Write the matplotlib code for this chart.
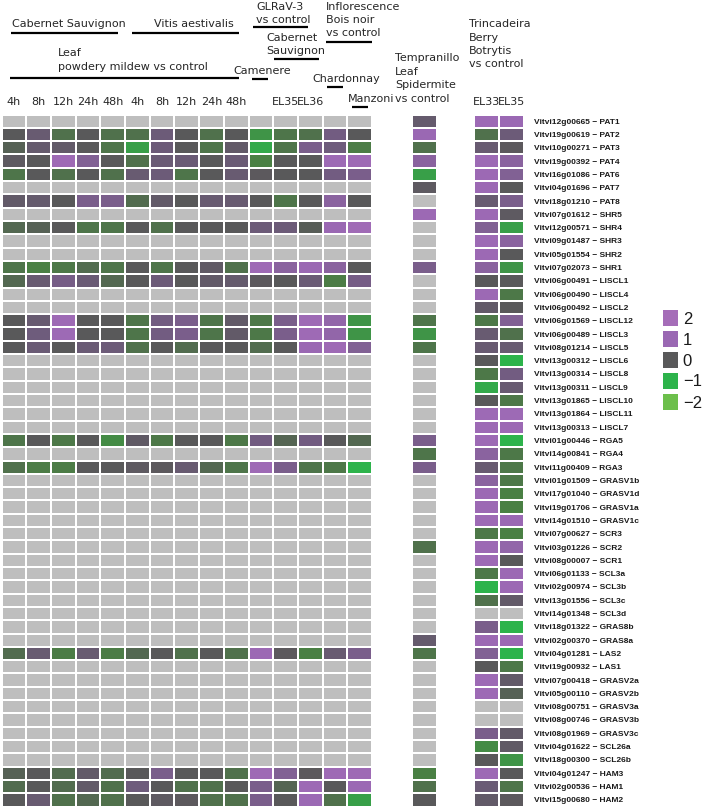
import numpy as np
import matplotlib
matplotlib.use("Agg")
import matplotlib.pyplot as plt
from matplotlib.colors import LinearSegmentedColormap

N = np.nan

genes = ["Vitvi12g00665 − PAT1", "Vitvi19g00619 − PAT2", "Vitvi10g00271 − PAT3",
         "Vitvi19g00392 − PAT4", "Vitvi16g01086 − PAT6", "Vitvi04g01696 − PAT7",
         "Vitvi18g01210 − PAT8", "Vitvi07g01612 − SHR5", "Vitvi12g00571 − SHR4",
         "Vitvi09g01487 − SHR3", "Vitvi05g01554 − SHR2", "Vitvi07g02073 − SHR1",
         "Vitvi06g00491 − LISCL1", "Vitvi06g00490 − LISCL4", "Vitvi06g00492 − LISCL2",
         "Vitvi06g01569 − LISCL12", "Vitvi06g00489 − LISCL3", "Vitvi08g01214 − LISCL5",
         "Vitvi13g00312 − LISCL6", "Vitvi13g00314 − LISCL8", "Vitvi13g00311 − LISCL9",
         "Vitvi13g01865 − LISCL10", "Vitvi13g01864 − LISCL11", "Vitvi13g00313 − LISCL7",
         "Vitvi01g00446 − RGA5", "Vitvi14g00841 − RGA4", "Vitvi11g00409 − RGA3",
         "Vitvi01g01509 − GRASV1b", "Vitvi17g01040 − GRASV1d", "Vitvi19g01706 − GRASV1a",
         "Vitvi14g01510 − GRASV1c", "Vitvi07g00627 − SCR3", "Vitvi03g01226 − SCR2",
         "Vitvi08g00007 − SCR1", "Vitvi06g01133 − SCL3a", "Vitvi02g00974 − SCL3b",
         "Vitvi13g01556 − SCL3c", "Vitvi14g01348 − SCL3d", "Vitvi18g01322 − GRAS8b",
         "Vitvi02g00370 − GRAS8a", "Vitvi04g01281 − LAS2", "Vitvi19g00932 − LAS1",
         "Vitvi07g00418 − GRASV2a", "Vitvi05g00110 − GRASV2b", "Vitvi08g00751 − GRASV3a",
         "Vitvi08g00746 − GRASV3b", "Vitvi08g01969 − GRASV3c", "Vitvi04g01622 − SCL26a",
         "Vitvi18g00300 − SCL26b", "Vitvi04g01247 − HAM3", "Vitvi02g00536 − HAM1",
         "Vitvi15g00680 − HAM2"]

col_labels = ["4h", "8h", "12h", "24h", "48h", "4h", "8h", "12h", "24h", "48h",
              "", "EL35", "EL36", "", ""]
trinc_labels = ["EL33", "EL35"]

NA15 = [N] * 15
# log2 fold change, main block (15 columns)
main = [
    NA15,
    [0, 0.3, -0.3, 0, -0.3, -0.3, 0.4, 0, -0.3, 0, -0.7, -0.35, -0.3, 0.5, 0],
    [-0.1, 0.25, 0.2, 0, -0.35, -0.8, 0.4, 0, -0.35, 0.2, -0.9, -0.35, 0.6, 0.45, -0.45],
    [0.1, 0, 1.4, 0.7, 0, -0.3, 0.35, 0.35, 0, 0.35, -0.5, 0, 0, 1.3, 1.4],
    [-0.35, 0, -0.3, 0, -0.3, 0.3, 0.4, -0.35, 0, 0.3, 0.05, 0, 0, 0.5, 0.6],
    NA15,
    [0.2, 0.25, 0, 0.6, 0.6, -0.25, 0.2, 0, 0.3, 0.3, 0, -0.35, 0, 0.8, 0],
    NA15,
    [-0.2, -0.1, 0, -0.35, -0.35, 0, -0.3, 0, 0, 0, 0.4, 0.4, -0.05, 1.0, 1.5],
    NA15,
    NA15,
    [-0.35, -0.5, -0.4, -0.25, -0.35, 0, -0.35, 0, 0.15, -0.3, 1.4, 0.8, 1.0, 0.8, 0],
    [-0.2, 0.3, 0.55, 0.35, -0.2, 0, 0.4, 0, 0.2, 0.25, 0.05, 0, 0.35, -0.45, 0.55],
    NA15,
    NA15,
    [0, 0.3, 1.4, 0, 0, -0.35, 0.5, 0.6, -0.35, 0.2, -0.4, 0.6, 1.4, 0.9, -0.7],
    [0, 0.45, 1.3, 0, 0, -0.35, 0.5, 0.6, -0.35, 0.2, -0.4, 0.6, 1.4, 0.9, -0.7],
    [0, 0.35, 0, 0.35, 0.4, -0.3, 0, -0.25, 0, 0, -0.25, 0, 1.0, 1.4, 0.7],
    NA15, NA15, NA15, NA15, NA15, NA15,
    [-0.35, 0, -0.4, 0, -0.6, 0.15, -0.4, 0, 0, -0.4, 0.5, -0.15, 0.5, 0, -0.2],
    NA15,
    [-0.3, -0.45, -0.45, 0, 0, 0.1, 0.05, 0.3, -0.2, -0.35, 1.4, 0.6, -0.35, -0.4, -1.0],
    NA15, NA15, NA15, NA15, NA15, NA15, NA15, NA15, NA15, NA15, NA15, NA15, NA15,
    [-0.25, 0.3, -0.45, 0.3, -0.45, -0.2, 0, -0.3, 0, -0.3, 1.2, 0.05, -0.5, 0.3, 0.6],
    NA15, NA15, NA15, NA15, NA15, NA15, NA15, NA15,
    [-0.1, 0, -0.25, 0.2, -0.25, 0, 0.6, 0, 0, -0.3, 1.4, 0.7, 0.05, 1.4, 1.4],
    [-0.25, 0, -0.25, 0.2, -0.3, 0.45, 0, -0.3, -0.3, 0, 0.6, -0.15, 1.3, 0, 1.1],
    [0, 0.3, -0.3, -0.2, -0.3, 0, 0.1, 0.05, -0.3, -0.3, 0.6, 0, 1.1, -0.3, -0.8],
]

tempranillo = [0.25, 1.0, -0.3, 0.8, -0.8, 0.1, N, 1.2, N, N, N, 0.6,
               N, N, N, -0.35, -0.7, -0.35, N, N, N, N, N, N,
               0.6, -0.35, 0.6, N, N, N, N, N, -0.3, N, N, N,
               N, N, N, 0.25, -0.35, N, N, N, N, N, N, N,
               N, -0.5, -0.3, 0]

trinc_el33 = [1.3, -0.3, 0.3, 1.3, 1.2, 1.2, 0.3, 1.2, 0.7, 1.3, 1.2, 0.8,
              0, 1.2, 0.2, -0.4, 0.3, 0.3, 0, -0.4, -0.9, 0, 1.3, 1.3,
              1.3, 0.8, 0.3, 0.8, 1.2, 1.2, 1.3, -0.4, 1.2, 1.3, -0.4, -1.0,
              -0.3, N, 0.6, 1.2, 0.7, 0, 1.3, 1.3, N, N, 0.6, -0.6,
              0, 1.3, 0.35, 0.2]
trinc_el35 = [1.0, 0.4, 0.05, 0.8, 0.7, 0, 0.6, 0.1, -0.8, 0.8, 0, -0.7,
              0, -0.4, 0, 0.7, -0.3, 0.3, -1.0, 0.5, 0.3, -0.4, 1.3, 1.2,
              -1.0, -0.4, -0.4, -0.4, -0.5, -0.5, 1.0, -0.5, 0.9, 0, 1.2, 1.2,
              0.2, N, -1.0, 1.2, -1.0, -0.4, 0.2, -0.1, N, N, 0.2, 0.15,
              -0.7, 0, -0.35, 0.05]

legend_vals = [2, 1, 0, -1, -2]

cmap = LinearSegmentedColormap.from_list(
    "gp", [(0, "#6cbf4b"), (0.25, "#2db34b"), (0.375, "#4a8044"), (0.5, "#595959"),
           (0.625, "#715c80"), (0.75, "#9a68b3"), (1, "#a56db8")])
cmap.set_bad("#bebebe")

W, H = 708, 807
fig = plt.figure(figsize=(W / 100, H / 100), dpi=100)
txt = "#262626"


def add_px_axes(x0, x1, y0, y1):
    return fig.add_axes([x0 / W, 1 - y1 / H, (x1 - x0) / W, (y1 - y0) / H])


def heat(ax, data):
    arr = np.ma.masked_invalid(np.array(data, dtype=float))
    ax.pcolormesh(arr, cmap=cmap, vmin=-2, vmax=2, edgecolors="white", linewidth=1.3)
    ax.set_xlim(0, arr.shape[1])
    ax.set_ylim(arr.shape[0], 0)
    for s in ax.spines.values():
        s.set_visible(False)
    ax.tick_params(length=0)
    ax.set_yticks([])


y_top, y_bot = 114.5, 806.5

ax1 = add_px_axes(1.5, 372, y_top, y_bot)
heat(ax1, main)
ax1.xaxis.tick_top()
ax1.set_xticks(np.arange(15) + 0.5)
ax1.set_xticklabels(col_labels, fontsize=8, color=txt)
ax1.tick_params(axis="x", pad=5.5)

ax2 = add_px_axes(411.5, 436.5, y_top, y_bot)
heat(ax2, np.array(tempranillo).reshape(-1, 1))
ax2.set_xticks([])

ax3 = add_px_axes(474, 523.5, y_top, y_bot)
heat(ax3, np.column_stack([trinc_el33, trinc_el35]))
ax3.xaxis.tick_top()
ax3.set_xticks([0.5, 1.5])
ax3.set_xticklabels(trinc_labels, fontsize=8, color=txt)
ax3.tick_params(axis="x", pad=5.5)
ax3.yaxis.tick_right()
ax3.set_yticks(np.arange(len(genes)) + 0.5)
ax3.set_yticklabels(genes, fontsize=6, fontweight="bold",
                    family="Liberation Sans", color="#1a1a1a")
ax3.tick_params(axis="y", pad=7.5)

# legend
axl = add_px_axes(660, 680, 307, 412)
heat(axl, np.array(legend_vals).reshape(-1, 1))
for c in axl.collections:
    c.set_linewidth(2.2)
axl.set_xticks([])
axl.yaxis.tick_right()
axl.set_yticks(np.arange(5) + 0.5)
axl.set_yticklabels(["2", "1", "0", "−1", "−2"], fontsize=12,
                    family="Liberation Sans", color="#1a1a1a")
axl.tick_params(axis="y", pad=2)

# header annotations (pixel space)
axh = fig.add_axes([0, 0, 1, 1], zorder=-1)
axh.set_xlim(0, W)
axh.set_ylim(H, 0)
axh.axis("off")

headers = [
    (12, 24, "Cabernet Sauvignon"),
    (154, 24, "Vitis aestivalis"),
    (256, 7, "GLRaV-3"), (256, 20, "vs control"),
    (326, 7, "Inflorescence"), (326, 20, "Bois noir"), (326, 33, "vs control"),
    (266, 38, "Cabernet"), (266, 51, "Sauvignon"),
    (58, 53, "Leaf"), (58, 67, "powdery mildew vs control"),
    (233, 71, "Camenere"),
    (312, 79, "Chardonnay"),
    (348, 99, "Manzoni"),
    (395, 58, "Tempranillo"), (395, 72, "Leaf"), (395, 85, "Spidermite"),
    (395, 99, "vs control"),
    (469, 24, "Trincadeira"), (469, 38, "Berry"), (469, 51, "Botrytis"),
    (469, 64, "vs control"),
]
for x, y, s in headers:
    axh.text(x, y, s, fontsize=8, color=txt, ha="left", va="center")

bars = [(11, 118, 33), (132, 239, 33), (253, 308, 27), (326, 372, 41.5),
        (274, 319, 59), (10, 239, 78), (252, 268, 79), (327, 343, 87),
        (352, 368, 107)]
for x0, x1, y in bars:
    axh.plot([x0, x1], [y, y], color="black", lw=1.6, solid_capstyle="butt")

fig.savefig("out.png", dpi=100)
